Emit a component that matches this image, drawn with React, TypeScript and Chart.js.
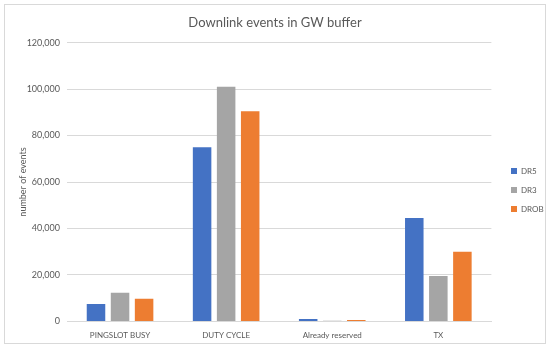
import React, { useEffect, useRef } from "react";
import { Chart, registerables } from "chart.js";

Chart.register(...registerables);

const categories = ["PINGSLOT BUSY", "DUTY CYCLE", "Already reserved", "TX"];
const dr5 = [7500, 75000, 1000, 44500];
const dr3 = [12300, 101000, 300, 19500];
const drob = [9700, 90500, 600, 30000];
const seriesNames = ["DR5", "DR3", "DROB"];

const FONT = "Lato, 'Open Sans', sans-serif";
const TXT = "#595959";

const legendShift = {
  id: "legendShift",
  afterLayout(chart: any) {
    const lg = chart.legend;
    if (!lg) return;
    const w = lg.width;
    const h = lg.height;
    lg.left = 495;
    lg.right = lg.left + w;
    lg.top = lg.top + 15;
    lg.bottom = lg.top + h;
  },
};

export default function App() {
  const ref = useRef<HTMLCanvasElement>(null);
  useEffect(() => {
    const ctx = ref.current!;
    const chart = new Chart(ctx, {
      type: "bar",
      data: {
        labels: categories,
        datasets: [
          { label: seriesNames[0], data: dr5, backgroundColor: "#4472C4" },
          { label: seriesNames[1], data: dr3, backgroundColor: "#A5A5A5" },
          { label: seriesNames[2], data: drob, backgroundColor: "#ED7D31" },
        ],
      },
      options: {
        animation: false,
        responsive: false,
        maintainAspectRatio: false,
        layout: { padding: { left: 0, right: 0, top: 4, bottom: 2 } },
        datasets: { bar: { categoryPercentage: 0.68, barPercentage: 0.77 } },
        plugins: {
          title: {
            display: true,
            text: "Downlink events in GW buffer",
            color: TXT,
            font: { family: FONT, size: 13, weight: "normal" },
            padding: { top: 6, bottom: 12 },
          },
          legend: {
            position: "right",
            labels: {
              color: TXT,
              font: { family: FONT, size: 8 },
              boxWidth: 6,
              boxHeight: 6,
              padding: 11,
            },
          },
          tooltip: { enabled: false },
        },
        scales: {
          x: {
            grid: { display: false },
            border: { display: true, color: "#d9d9d9" },
            ticks: { color: TXT, font: { family: FONT, size: 8 }, padding: 1 },
          },
          y: {
            min: 0,
            max: 120000,
            afterFit: (s: any) => {
              s.width = 62;
            },
            ticks: {
              stepSize: 20000,
              color: TXT,
              font: { family: FONT, size: 9 },
              padding: 7,
              callback: (v: any) => Number(v).toLocaleString("en-US"),
            },
            grid: { color: "#d9d9d9", drawTicks: false },
            border: { display: false },
            title: {
              display: true,
              text: "number of events",
              color: TXT,
              font: { family: FONT, size: 9 },
              padding: { top: 13, bottom: 4 },
            },
          },
        },
      },
      plugins: [legendShift],
    });
    return () => chart.destroy();
  }, []);
  return (
    <div
      style={{
        position: "fixed",
        left: 4,
        top: 4,
        width: 540,
        height: 338,
        border: "1px solid #d9d9d9",
        background: "#fff",
      }}
    >
      <canvas ref={ref} width={540} height={338} />
    </div>
  );
}
